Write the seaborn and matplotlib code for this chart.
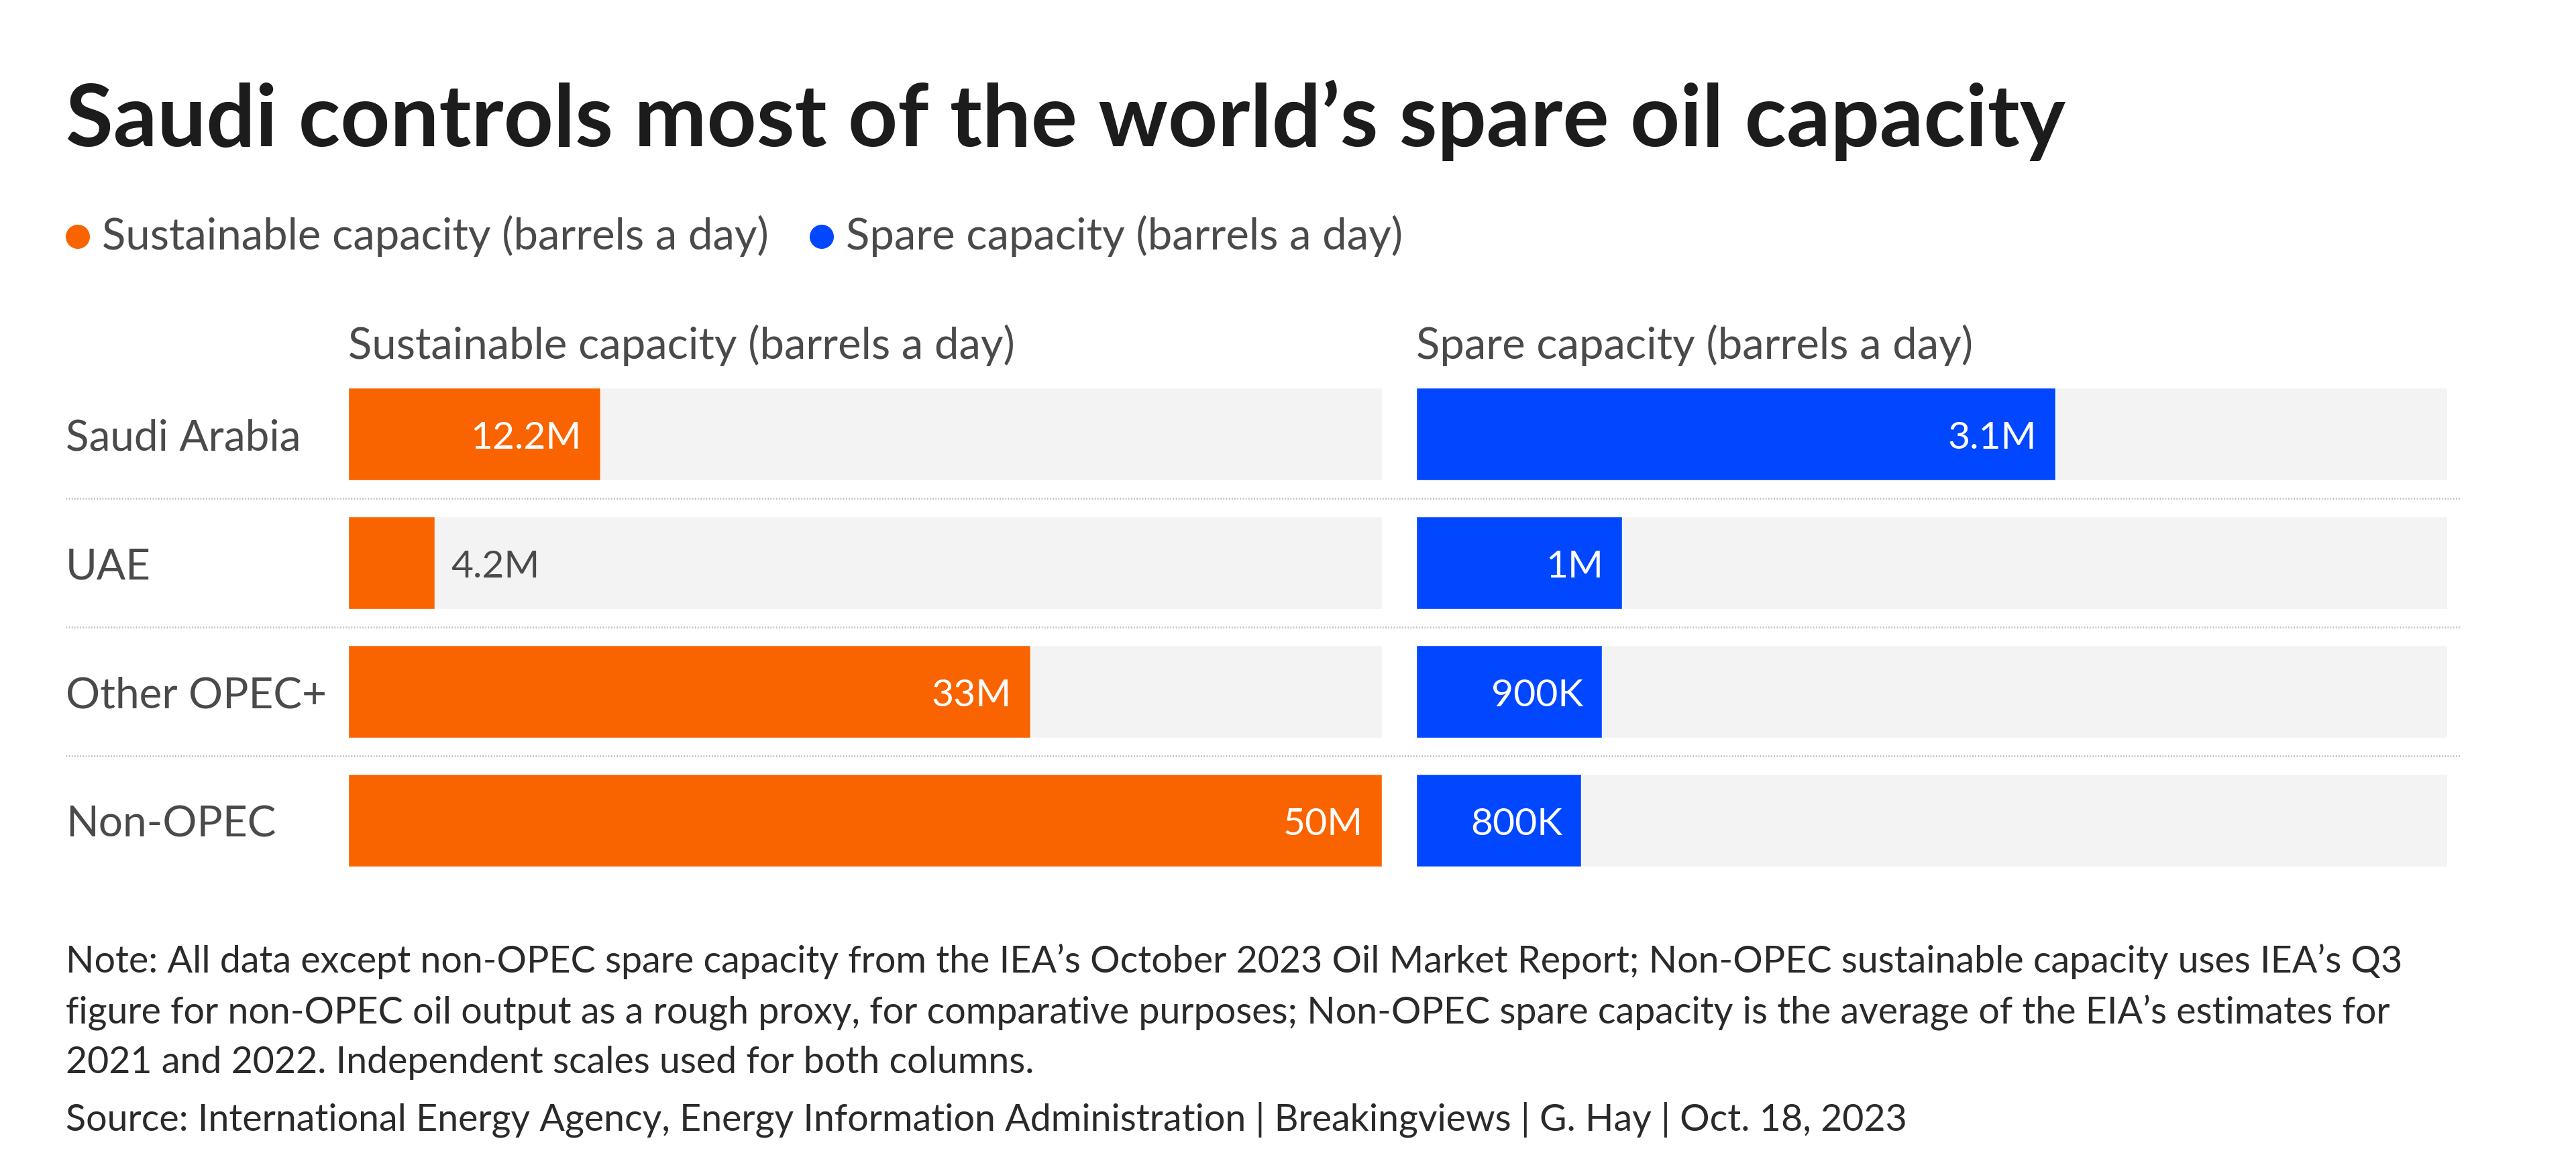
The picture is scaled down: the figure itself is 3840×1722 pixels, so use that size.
import matplotlib
matplotlib.use("Agg")
import matplotlib.pyplot as plt
import seaborn as sns
import pandas as pd
from matplotlib.lines import Line2D
from matplotlib.patches import Ellipse

# ---------------- data ----------------
regions = ["Saudi Arabia", "UAE", "Other OPEC+", "Non-OPEC"]
sustainable = [12.2, 4.2, 33.0, 50.0]          # million barrels a day
sustainable_labels = ["12.2M", "4.2M", "33M", "50M"]
spare = [3.1, 1.0, 0.9, 0.8]                    # million barrels a day
spare_labels = ["3.1M", "1M", "900K", "800K"]
sustainable_max = 50
spare_max = 5

title = "Saudi controls most of the world\u2019s spare oil capacity"
series_names = ["Sustainable capacity (barrels a day)", "Spare capacity (barrels a day)"]
note_lines = [
    "Note: All data except non-OPEC spare capacity from the IEA\u2019s October 2023 Oil Market Report; Non-OPEC sustainable capacity uses IEA\u2019s Q3",
    "figure for non-OPEC oil output as a rough proxy, for comparative purposes; Non-OPEC spare capacity is the average of the EIA\u2019s estimates for",
    "2021 and 2022. Independent scales used for both columns.",
]
source = "Source: International Energy Agency, Energy Information Administration | Breakingviews | G. Hay | Oct. 18, 2023"

ORANGE = "#F96400"
BLUE = "#0047FF"
TRACK = "#F3F3F3"
TEXT = "#4A4A4A"
TITLE_C = "#1C1C1C"
LIGHT_W = "normal"

# ---------------- figure ----------------
W, H, DPI = 3840, 1722, 100
sns.set_theme(style="white")
plt.rcParams["font.family"] = ["Lato", "DejaVu Sans"]

fig = plt.figure(figsize=(W / DPI, H / DPI), dpi=DPI)
fig.patch.set_facecolor("white")


def fx(px):
    return px / W


def fy(py):
    return 1 - py / H


top_px, bot_px = 551, 1319
axL = fig.add_axes([fx(519), fy(bot_px), fx(2060 - 519), (bot_px - top_px) / H])
axR = fig.add_axes([fx(2111), fy(bot_px), fx(3648 - 2111), (bot_px - top_px) / H])

df = pd.DataFrame({"region": regions, "sustainable": sustainable, "spare": spare})


def panel(ax, col, vmax, color, labels):
    sns.barplot(data=df.assign(track=vmax), x="track", y="region", orient="h",
                color=TRACK, saturation=1, width=0.72, ax=ax, order=regions)
    sns.barplot(data=df, x=col, y="region", orient="h", color=color,
                saturation=1, width=0.72, ax=ax, order=regions)
    ax.set_xlim(0, vmax)
    ax.set_ylim(3.5, -0.5)
    ax.axis("off")
    for i, (v, lab) in enumerate(zip(df[col], labels)):
        if v / vmax > 0.12:
            ax.annotate(lab, (v, i), xytext=(-28, -22), textcoords="offset pixels",
                        ha="right", va="baseline", color="white", fontsize=41,
                        fontweight=LIGHT_W)
        else:
            ax.annotate(lab, (v, i), xytext=(24, -22), textcoords="offset pixels",
                        ha="left", va="baseline", color=TEXT, fontsize=41,
                        fontweight=LIGHT_W)


panel(axL, "sustainable", sustainable_max, ORANGE, sustainable_labels)
panel(axR, "spare", spare_max, BLUE, spare_labels)

# row labels
for i, r in enumerate(regions):
    axL.annotate(r, (0, i), xytext=(98 - 519, -24), textcoords="offset pixels",
                 ha="left", va="baseline", color=TEXT, fontsize=46, fontweight=LIGHT_W,
                 annotation_clip=False)

# dotted separators
for y in [743, 935, 1127]:
    fig.add_artist(Line2D([fx(98), fx(3667)], [fy(y), fy(y)], transform=fig.transFigure,
                          color="#BDBDBD", lw=2.0, linestyle=(0, (0.6, 0.9))))

# column headers
fig.text(fx(519), fy(535), series_names[0], ha="left", va="baseline", color=TEXT,
         fontsize=47, fontweight=LIGHT_W)
fig.text(fx(2111), fy(535), series_names[1], ha="left", va="baseline", color=TEXT,
         fontsize=47, fontweight=LIGHT_W)

# title
fig.text(fx(98), fy(218), title, ha="left", va="baseline", color=TITLE_C,
         fontsize=93, fontweight="bold")

# legend
fig.add_artist(Ellipse((fx(116), fy(353)), fx(36), 36 / H, transform=fig.transFigure,
                       color=ORANGE, lw=0))
fig.text(fx(152), fy(372), series_names[0], ha="left", va="baseline", color=TEXT,
         fontsize=47, fontweight=LIGHT_W)
fig.add_artist(Ellipse((fx(1225), fy(353)), fx(36), 36 / H, transform=fig.transFigure,
                       color=BLUE, lw=0))
fig.text(fx(1261), fy(372), series_names[1], ha="left", va="baseline", color=TEXT,
         fontsize=47, fontweight=LIGHT_W)

# notes
for k, line in enumerate(note_lines):
    fig.text(fx(98), fy(1450 + 75 * k), line, ha="left", va="baseline", color="#2A2A2A",
             fontsize=40)
fig.text(fx(98), fy(1685), source, ha="left", va="baseline", color="#2A2A2A", fontsize=40)

fig.savefig("out.png", dpi=DPI, facecolor="white")
